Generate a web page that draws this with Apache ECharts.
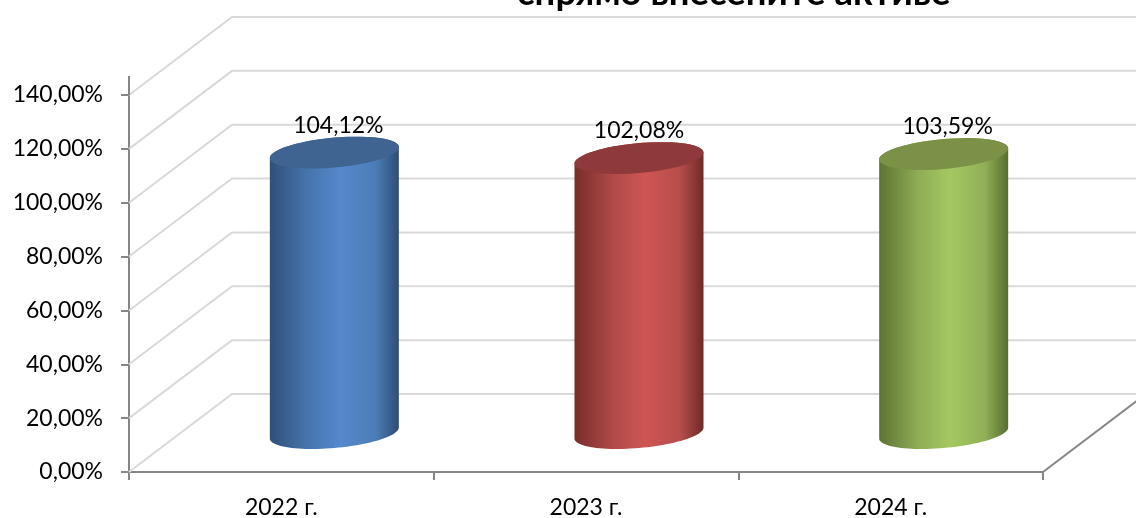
<!DOCTYPE html>
<html><head><meta charset="utf-8">
<style>html,body{margin:0;padding:0;background:#fff}#c{width:1136px;height:518px}</style>
<script src="https://cdn.jsdelivr.net/npm/echarts@6/dist/echarts.min.js"></script>
</head><body><div id="c"></div>
<script>
const categories = ['2022 г.', '2023 г.', '2024 г.'];
const values = [104.12, 102.08, 103.59];
const yTicks = [0, 20, 40, 60, 80, 100, 120, 140];
const titleText = 'спрямо внесените активе';
const topColors = ['#3F6491', '#8F3A3A', '#7A9147'];
const bodyColors = [
  ['#2F5079', '#4675AE', '#5588CC', '#4C7DB8', '#2E4C72'],
  ['#772D2B', '#B04A48', '#CE5654', '#B54D4A', '#6E2A28'],
  ['#5D7333', '#8FAC55', '#A5C862', '#91AF57', '#586D30']
];
const labelDx = [4, 0, 4];
const FONT = 'Lato, "Open Sans", sans-serif';
const DX = 103, DY = -78;      // depth of the 3D box
const CX = 52, CY = -39;       // cylinder centre in the depth
const A = 64.5, S = 5.5, B = 15;
function ell(c, t) {
  return [c[0] + A * Math.cos(t), c[1] - S * Math.cos(t) + B * Math.sin(t)];
}
function arc(c, from, to) {
  const pts = [];
  for (let i = 0; i <= 48; i++) pts.push(ell(c, from + (to - from) * i / 48));
  return pts;
}
const chart = echarts.init(document.getElementById('c'), null, {renderer: 'canvas'});
const pct = v => v.toFixed(2).replace('.', ',') + '%';
chart.setOption({
  animation: false,
  backgroundColor: '#fff',
  title: {text: titleText, left: 517, top: -25, padding: 0,
    textStyle: {fontFamily: FONT, fontSize: 36.5, fontWeight: 'bold', color: '#000'}},
  grid: {left: 129, width: 914, top: 95, height: 377, outerBoundsMode: 'none', containLabel: false},
  xAxis: {type: 'category', data: categories,
    axisLine: {lineStyle: {color: '#868686', width: 2}},
    axisTick: {show: true, alignWithLabel: false, length: 8, lineStyle: {color: '#868686', width: 2}},
    axisLabel: {fontFamily: FONT, fontSize: 23, color: '#000', margin: 24},
    splitLine: {show: false}},
  yAxis: {type: 'value', min: 0, max: 140, interval: 20,
    axisLine: {show: true, lineStyle: {color: '#868686', width: 2}},
    axisTick: {show: true, length: 8, lineStyle: {color: '#868686', width: 2}},
    axisLabel: {fontFamily: FONT, fontSize: 23, color: '#000', margin: 26, padding: [6, 0, 0, 0], formatter: pct},
    splitLine: {show: false}},
  series: [
    {type: 'custom', z: 1, silent: true, clip: false, data: yTicks,
      encode: {y: 0},
      renderItem(params, api) {
        const cs = params.coordSys;
        const y = api.coord([0, api.value(0)])[1];
        const x0 = cs.x, x1 = cs.x + cs.width;
        const children = [{type: 'polyline',
          shape: {points: [[x0, y], [x0 + DX, y + DY], [x1 + DX, y + DY]]},
          style: {stroke: '#D9D9D9', lineWidth: 2, fill: null, lineJoin: 'miter'}}];
        if (params.dataIndex === 0) children.push(
          {type: 'line', shape: {x1: x1, y1: y, x2: x1 + DX, y2: y + DY},
            style: {stroke: '#868686', lineWidth: 2}});
        if (params.dataIndex === yTicks.length - 1) children.push(
          {type: 'line', shape: {x1: x0, y1: y, x2: x0, y2: y - 19},
            style: {stroke: '#868686', lineWidth: 2}});
        return {type: 'group', children};
      }},
    {type: 'custom', z: 3, silent: true, clip: false,
      data: values.map((v, i) => [i, v]),
      encode: {x: 0, y: 1},
      renderItem(params, api) {
        const i = params.dataIndex;
        const t = api.coord([api.value(0), api.value(1)]);
        const b = api.coord([api.value(0), 0]);
        const top = [t[0] + CX + 1, t[1] + CY];
        const bot = [b[0] + CX + 1, b[1] + CY];
        const stops = bodyColors[i];
        const offs = [0, 0.3, 0.55, 0.82, 1];
        const body = arc(bot, 0, Math.PI).concat(arc(top, Math.PI, 2 * Math.PI));
        return {type: 'group', children: [
          {type: 'polygon', shape: {points: body},
            style: {fill: new echarts.graphic.LinearGradient(0, 0, 1, 0,
              stops.map((c, k) => ({offset: offs[k], color: c})))}},
          {type: 'polygon', shape: {points: arc(top, 0, 2 * Math.PI)},
            style: {fill: topColors[i]}},
          {type: 'text', x: top[0] + labelDx[i], y: top[1] - 27.5,
            style: {text: pct(api.value(1)), fontFamily: FONT, fontSize: 23, fill: '#000',
              align: 'center', verticalAlign: 'middle'}}
        ]};
      }}
  ]
});
</script></body></html>
